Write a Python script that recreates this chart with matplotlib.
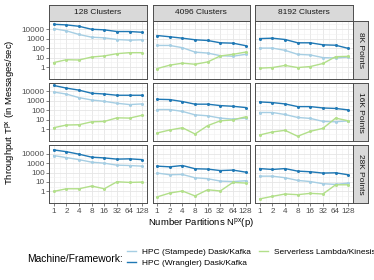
import matplotlib
matplotlib.use("Agg")
import matplotlib.pyplot as plt
from matplotlib.patches import Rectangle
from matplotlib.ticker import FixedLocator, NullFormatter

plt.rcParams['font.family'] = ['Liberation Sans', 'DejaVu Sans']

partitions = [1, 2, 4, 8, 16, 32, 64, 128]
clusters = ["128 Clusters", "4096 Clusters", "8192 Clusters"]
point_rows = ["8K Points", "16K Points", "28K Points"]
series_names = ["HPC (Stampede) Dask/Kafka", "HPC (Wrangler) Dask/Kafka",
                "Serverless Lambda/Kinesis"]
colors = ["#A6CEE3", "#1F78B4", "#B2DF8A"]

# one list per cluster count (128, 4096, 8192)
stampede_8k = [[11000, 6500, 2700, 1400, 1200, 800, 680, 750],
               [190, 190, 110, 38, 30, 16, 14, 22],
               [100, 100, 58, 22, 19, 10, 9, 11.5]]
wrangler_8k = [[31600, 27500, 19600, 9500, 8300, 5500, 5500, 4600],
               [2100, 1550, 1100, 750, 630, 360, 330, 180],
               [1000, 1100, 800, 360, 360, 220, 200, 93]]
serverless_8k = [[3, 6, 5.6, 11.5, 15, 26, 33, 33],
                 [0.7, 1.6, 2.6, 2.0, 3.5, 15, 22, 38],
                 [0.78, 0.9, 1.5, 0.9, 1.15, 2.4, 12.5, 13.5]]

stampede_16k = [[8500, 5200, 2200, 1240, 900, 560, 410, 480],
                [123, 123, 78, 34, 27, 15.5, 12, 15.5],
                [60, 60, 37, 18, 14.4, 7, 6.3, 8]]
wrangler_16k = [[42000, 22000, 13500, 6300, 5300, 3900, 3900, 3900],
                [1470, 1370, 850, 450, 450, 320, 270, 200],
                [780, 660, 480, 250, 250, 180, 160, 112]]
serverless_16k = [[1.5, 2.9, 3.1, 6.3, 6.9, 16.5, 15.5, 31],
                  [0.42, 0.87, 1.5, 0.33, 2.5, 8, 10, 21],
                  [0.26, 0.54, 0.8, 0.19, 0.63, 1.3, 15.5, 8]]

stampede_28k = [[6200, 3800, 2300, 1240, 970, 600, 550, 470],
                [87, 58, 62, 27.5, 22, 12.3, 11, 13.3],
                [41, 41, 28, 14.5, 11, 6.5, 5.5, 7.6]]
wrangler_28k = [[24500, 16000, 8700, 4200, 3500, 2600, 2800, 2300],
                [470, 400, 550, 250, 230, 160, 180, 110],
                [260, 210, 260, 140, 120, 87, 93, 57]]
serverless_28k = [[1.0, 1.9, 1.9, 3.7, 1.9, 10.5, 8.9, 9.7],
                  [0.26, 0.67, 1.1, 0.33, 1.5, 1.1, 9, 7.6],
                  [0.16, 0.3, 0.53, 0.45, 0.62, 0.53, 5, 5]]

rows_data = [(stampede_8k, wrangler_8k, serverless_8k),
             (stampede_16k, wrangler_16k, serverless_16k),
             (stampede_28k, wrangler_28k, serverless_28k)]

W, H = 374, 280
fig = plt.figure(figsize=(W / 100, H / 100), dpi=100)

col_x = [(49.3, 146.7), (152.7, 250.0), (255.3, 352.7)]
row_y = [(20.7, 79.0), (83.0, 141.3), (145.3, 203.2)]
border = "#4d4d4d"
strip_fill = "#D9D9D9"


def fig_box(x0, y0, x1, y1):
    return [x0 / W, 1 - y1 / H, (x1 - x0) / W, (y1 - y0) / H]


def make_strip(box, label, rot):
    sax = fig.add_axes(box)
    sax.add_patch(Rectangle((0, 0), 1, 1, transform=sax.transAxes,
                            facecolor=strip_fill, edgecolor='none'))
    sax.set_xticks([])
    sax.set_yticks([])
    for s in sax.spines.values():
        s.set_color(border)
        s.set_linewidth(0.7)
    sax.text(0.5, 0.5, label, ha='center', va='center', rotation=rot,
             fontsize=6, color='#1a1a1a')


yticks = [1, 10, 100, 1000, 10000]
yminor = [10 ** (k + 0.5) for k in range(-2, 5)]
xminor = [2 ** (k + 0.5) for k in range(-1, 8)]

handles = None
for r, (st, wr, sv) in enumerate(rows_data):
    for c in range(3):
        x0, x1 = col_x[c]
        y0, y1 = row_y[r]
        ax = fig.add_axes(fig_box(x0, y0, x1, y1))
        ax.set_xscale('log', base=2)
        ax.set_yscale('log')
        ax.set_xlim(2 ** -0.35, 2 ** 7.35)
        ax.set_ylim(10 ** -1.25, 10 ** 4.88)
        ax.xaxis.set_major_locator(FixedLocator(partitions))
        ax.xaxis.set_minor_locator(FixedLocator(xminor))
        ax.yaxis.set_major_locator(FixedLocator(yticks))
        ax.yaxis.set_minor_locator(FixedLocator(yminor))
        ax.xaxis.set_minor_formatter(NullFormatter())
        ax.yaxis.set_minor_formatter(NullFormatter())
        ax.grid(True, which='major', color='#E5E5E5', lw=0.6)
        ax.grid(True, which='minor', color='#F0F0F0', lw=0.4)
        ax.set_axisbelow(True)
        for s in ax.spines.values():
            s.set_color(border)
            s.set_linewidth(0.7)
        ax.tick_params(which='minor', length=0)
        ax.tick_params(which='major', length=2, width=0.5, color=border,
                       labelsize=5.9, labelcolor='#4d4d4d', pad=1.2)
        if c == 0:
            ax.set_yticklabels([str(v) for v in yticks])
        else:
            ax.tick_params(axis='y', length=0, labelleft=False)
        if r == 2:
            ax.set_xticklabels([str(v) for v in partitions])
        else:
            ax.tick_params(axis='x', length=0, labelbottom=False)

        lines = []
        for vals, col in zip((st[c], wr[c], sv[c]), colors):
            ln, = ax.plot(partitions, vals, color=col, lw=1.0, marker='o',
                          ms=2.2, mew=0)
            lines.append(ln)
        if handles is None:
            handles = lines

        if r == 0:
            make_strip(fig_box(x0, 5.2, x1, y0), clusters[c], 0)
        if c == 2:
            make_strip(fig_box(x1, y0, 368.0, y1), point_rows[r], -90)

fig.text(10 / W, 1 - 112 / H, "Throughput T$^{\\mathregular{px}}$ (in Messages/sec)",
         rotation=90, ha='center', va='center', fontsize=6.8)
fig.text(201 / W, 1 - 223 / H, "Number Partitions N$^{\\mathregular{px}}$(p)",
         ha='center', va='center', fontsize=6.8)

fig.text(27 / W, 1 - 258.5 / H, "Machine/Framework:", ha='left', va='center',
         fontsize=7.4)
fig.legend(handles, series_names, ncol=2, frameon=False, fontsize=6,
           loc='upper left', bbox_to_anchor=(127 / W, 1 - 248 / H),
           handlelength=1.1, handletextpad=0.7, columnspacing=1.0,
           labelspacing=0.4, borderpad=0, borderaxespad=0,
           markerscale=0)

fig.savefig("out.png", dpi=100)
